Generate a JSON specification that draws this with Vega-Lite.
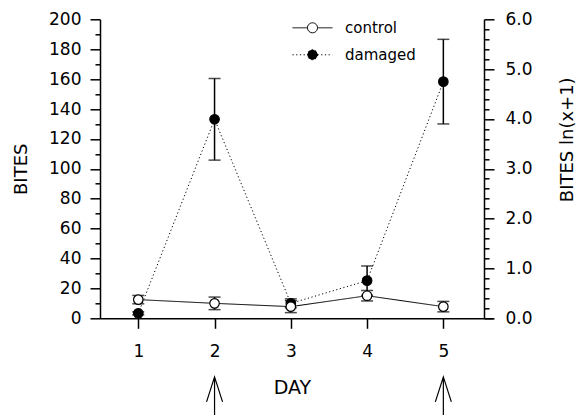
{
  "$schema": "https://vega.github.io/schema/vega-lite/v6.json",
  "autosize": {"type": "none"},
  "padding": {"left": 100, "top": 19.3, "right": 86, "bottom": 96.7},
  "width": 393,
  "height": 299,
  "config": {
    "view": {"stroke": null},
    "font": "DejaVu Sans",
    "axis": {
      "domainColor": "black", "tickColor": "black", "labelColor": "black", "titleColor": "black",
      "labelFont": "DejaVu Sans", "titleFont": "DejaVu Sans", "labelFontSize": 17, "titleFontSize": 17,
      "titleFontWeight": "normal", "grid": false, "domainWidth": 1.5, "tickWidth": 1.5
    },
    "legend": {"labelFont": "DejaVu Sans", "labelColor": "black"}
  },
  "datasets": {
    "main": [
      {"day": 1, "group": "damaged", "mean": 3.3, "se": 1},
      {"day": 2, "group": "damaged", "mean": 133.1, "se": 27.3},
      {"day": 3, "group": "damaged", "mean": 10, "se": 3},
      {"day": 4, "group": "damaged", "mean": 25.2, "se": 9.8},
      {"day": 5, "group": "damaged", "mean": 158.3, "se": 28.3},
      {"day": 1, "group": "control", "mean": 12.5, "se": 2.8},
      {"day": 2, "group": "control", "mean": 10, "se": 4.2},
      {"day": 3, "group": "control", "mean": 7.8, "se": 4},
      {"day": 4, "group": "control", "mean": 15.1, "se": 3.5},
      {"day": 5, "group": "control", "mean": 7.8, "se": 3.5}
    ],
    "arrows": [{"day": 2}, {"day": 5}]
  },
  "layer": [
    {
      "data": {"name": "main"},
      "encoding": {
        "x": {"field": "day", "type": "quantitative",
          "scale": {"domain": [0.498, 5.651], "nice": false, "zero": false},
          "axis": {"title": "DAY", "values": [1, 2, 3, 4, 5], "format": "d", "tickSize": 10, "labelPadding": 15,
            "titleX": 192, "titleY": 69, "titleBaseline": "middle", "titleAlign": "center", "titleFontSize": 19}},
        "y": {"field": "mean", "type": "quantitative",
          "scale": {"domain": [0, 200], "nice": false},
          "axis": {"orient": "left", "title": "BITES", "values": [0, 20, 40, 60, 80, 100, 120, 140, 160, 180, 200],
            "format": "d", "tickSize": 10, "labelPadding": 9, "titleAngle": 270, "titleX": -79, "titleY": 149.5,
            "titleBaseline": "middle", "titleAlign": "center", "titleFontSize": 18}}
      },
      "layer": [
        {
          "mark": {"type": "line", "color": "black", "strokeWidth": 1},
          "encoding": {
            "strokeDash": {"field": "group", "type": "nominal",
              "scale": {"domain": ["control", "damaged"], "range": [[1, 0], [1.2, 2.5]]},
              "legend": {"title": null, "orient": "none", "legendX": 202, "legendY": -2,
                "symbolType": "M-2,0L-0.5,0M0.5,0A0.5,0.5,0,1,1,-0.5,0A0.5,0.5,0,1,1,0.5,0M0.5,0L2,0",
                "symbolSize": 400, "symbolStrokeColor": "black", "symbolStrokeWidth": 1,
                "labelFontSize": 15, "labelOffset": 22, "rowPadding": 8, "padding": 0}}
          }
        },
        {
          "mark": {"type": "errorbar", "ticks": {"size": 12}, "color": "black", "thickness": 1.5},
          "encoding": {"yError": {"field": "se"}}
        },
        {
          "mark": {"type": "point", "filled": true, "size": 90, "stroke": "black", "strokeWidth": 1.2, "opacity": 1},
          "encoding": {
            "fill": {"field": "group", "type": "nominal",
              "scale": {"domain": ["control", "damaged"], "range": ["white", "black"]},
              "legend": {"title": null, "orient": "none", "legendX": 202, "legendY": -2,
                "symbolType": "M-2,0L-0.5,0M0.5,0A0.5,0.5,0,1,1,-0.5,0A0.5,0.5,0,1,1,0.5,0M0.5,0L2,0",
                "symbolSize": 400, "symbolStrokeColor": "black", "symbolStrokeWidth": 1,
                "labelFontSize": 15, "labelOffset": 22, "rowPadding": 8, "padding": 0}}
          }
        }
      ]
    },
    {
      "data": {"name": "arrows"},
      "mark": {"type": "point", "shape": "M0,-1L0,1M-0.4,0.25L0,-1L0.4,0.25", "size": 1600,
        "filled": false, "stroke": "black", "strokeWidth": 1.2, "opacity": 1},
      "encoding": {
        "x": {"field": "day", "type": "quantitative",
          "scale": {"domain": [0.498, 5.651], "nice": false, "zero": false},
          "axis": {"title": "DAY", "values": [1, 2, 3, 4, 5], "format": "d", "tickSize": 10, "labelPadding": 15,
            "titleX": 192, "titleY": 69, "titleBaseline": "middle", "titleAlign": "center", "titleFontSize": 19}},
        "y": {"datum": -52.6, "type": "quantitative", "scale": {"domain": [0, 200], "nice": false}, "axis": null}
      }
    },
    {
      "data": {"name": "main"},
      "mark": {"type": "point", "opacity": 0},
      "encoding": {
        "y": {"datum": 0, "type": "quantitative", "scale": {"domain": [0, 200], "nice": false},
          "axis": {"orient": "left", "values": [10, 30, 50, 70, 90, 110, 130, 150, 170, 190],
            "tickSize": 5, "labels": false, "domain": false, "title": null}}
      }
    },
    {
      "data": {"name": "main"},
      "mark": {"type": "point", "opacity": 0},
      "encoding": {
        "y": {"datum": 0, "type": "quantitative", "scale": {"domain": [0, 6], "nice": false},
          "axis": {"orient": "right", "offset": -9, "values": [0, 1, 2, 3, 4, 5, 6], "format": ".1f",
            "tickSize": 10, "labelPadding": 11, "title": "BITES ln(x+1)", "titleAngle": 270,
            "titleX": 83, "titleY": 120, "titleBaseline": "middle", "titleAlign": "center", "titleFontSize": 18}}
      }
    },
    {
      "data": {"name": "main"},
      "mark": {"type": "point", "opacity": 0},
      "encoding": {
        "y": {"datum": 0, "type": "quantitative", "scale": {"domain": [0, 6], "nice": false},
          "axis": {"orient": "right", "offset": -9,
            "values": [0.2, 0.4, 0.6, 0.8, 1.2, 1.4, 1.6, 1.8, 2.2, 2.4, 2.6, 2.8, 3.2, 3.4, 3.6, 3.8, 4.2, 4.4, 4.6, 4.8, 5.2, 5.4, 5.6, 5.8],
            "tickSize": 5, "labels": false, "domain": false, "title": null}}
      }
    }
  ],
  "resolve": {"scale": {"y": "independent"}, "axis": {"y": "independent"}}
}
